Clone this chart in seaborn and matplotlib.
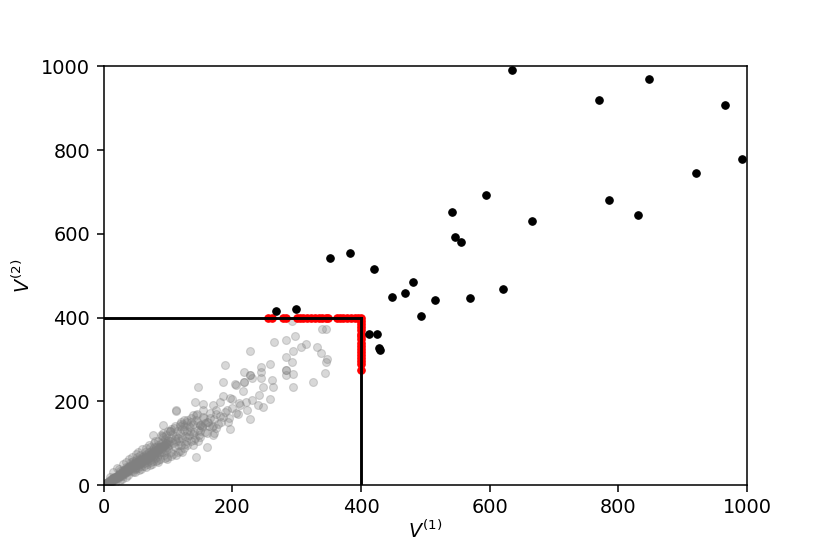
import matplotlib
matplotlib.use("Agg")
import matplotlib.pyplot as plt
import seaborn as sns
import pandas as pd

# ---- data ----
threshold = 400

black_x = [268, 299, 351, 383, 420, 412, 425, 428, 429, 448, 469, 480, 493, 515, 542, 546, 556, 570,
           595, 620, 634, 666, 770, 786, 831, 847, 921, 966, 993]
black_y = [415, 421, 542, 555, 515, 361, 361, 327, 322, 450, 458, 486, 404, 442, 652, 593, 581, 447,
           693, 468, 991, 630, 919, 682, 644, 970, 746, 909, 778]

red_x = [256, 261, 279, 283, 300, 305, 310, 316, 322, 328, 334, 340, 345, 348,
         362, 367, 372, 378, 384, 390, 395, 400,
         400, 400, 400, 400, 400, 400, 400, 400, 400, 400, 400, 400, 400, 400, 400, 400]
red_y = [400, 400, 400, 400, 400, 400, 400, 400, 400, 400, 400, 400, 400, 400,
         400, 400, 400, 400, 400, 400, 400, 400,
         392, 385, 378, 370, 362, 355, 348, 340, 333, 326, 318, 310, 303, 296, 290, 275]

gray_x = [2, 3, 4, 5, 6, 7, 8, 9, 10, 3, 5, 7, 1, 6, 8,
          11, 12, 13, 14, 15, 16, 17, 18, 19, 12, 14, 16, 18, 20, 11,
          21, 22, 23, 24, 25, 26, 27, 28, 29, 30, 22, 24, 26, 28, 30,
          31, 32, 33, 34, 35, 36, 37, 38, 39, 40, 32, 34, 36, 38, 40,
          41, 42, 43, 44, 45, 46, 47, 48, 49, 50, 42, 44, 46, 48, 50,
          51, 52, 53, 54, 55, 56, 57, 58, 59, 60, 52, 54, 56, 58, 60,
          61, 62, 63, 64, 65, 66, 67, 68, 69, 70, 62, 64, 66, 68, 70,
          71, 72, 73, 74, 75, 76, 77, 78, 79, 80, 72, 74, 76, 78, 80,
          81, 82, 83, 84, 85, 86, 87, 88, 89, 90, 82, 84, 86, 88, 90,
          91, 92, 93, 94, 95, 96, 97, 98, 99, 100, 92, 94, 96, 98, 100,
          102, 104, 105, 106, 108, 110, 112, 113, 114, 115, 103, 107, 111, 109, 115,
          117, 118, 120, 121, 122, 124, 125, 126, 128, 130, 119, 123, 127, 129, 130,
          132, 134, 136, 138, 140, 142, 144, 146, 148, 150, 135, 139, 143, 147, 150,
          153, 156, 158, 162, 165, 168, 172, 175, 178, 180,
          20, 25, 30, 35, 40, 45, 50, 55, 60, 65, 24, 28, 34, 38, 44, 48, 54, 58, 15, 18, 10, 12,
          70, 75, 80, 85, 90, 95, 100, 105, 110, 115, 120, 66, 72, 78, 84, 92, 98, 104, 112, 118,
          125, 130, 135, 140, 145, 150, 155, 160, 165, 170, 175, 182, 188, 195, 200,
          124, 132, 138, 146, 152, 158, 164, 172, 186, 192,
          5, 10, 15, 20, 25, 30, 35, 40, 45, 50, 55, 60, 65, 70, 75, 80, 85, 90, 95, 100,
          8, 13, 18, 23, 28, 33, 38, 43, 48, 53, 58, 63, 68, 73, 78, 83, 88, 93, 98, 103,
          292, 345, 265, 284, 298, 227, 306, 314, 294, 331, 337, 347, 345, 284, 292, 259, 244,
          283, 283, 294, 344, 218, 227, 230, 244, 244, 218, 262, 326, 205, 248, 263, 294, 217,
          242, 258, 231, 221, 210, 240, 248, 200, 189, 147, 186, 204, 228, 196, 175, 193, 206,
          222, 113, 161, 89, 77, 121, 144, 185, 196, 112, 142, 155, 170, 180, 212, 209, 160,
          149, 118, 92, 103, 134, 170, 139, 129, 155, 227, 283, 218, 340]
gray_y = [3, 1, 5, 4, 7, 5, 9, 6, 8, 4, 6, 8, 2, 3, 6,
          12, 9, 14, 11, 17, 13, 15, 20, 16, 15, 16, 18, 14, 22, 8,
          19, 25, 20, 27, 22, 29, 24, 31, 26, 28, 17, 21, 33, 22, 35,
          30, 36, 28, 38, 32, 40, 33, 43, 35, 38, 26, 44, 30, 37, 46,
          42, 36, 48, 40, 52, 43, 50, 41, 55, 47, 55, 33, 58, 38, 60,
          52, 44, 58, 48, 63, 50, 60, 46, 66, 55, 68, 40, 72, 52, 62,
          58, 70, 52, 66, 60, 75, 56, 68, 62, 78, 46, 80, 64, 50, 66,
          72, 60, 82, 66, 74, 58, 86, 70, 78, 64, 90, 54, 80, 92, 84,
          76, 90, 68, 84, 96, 74, 88, 62, 100, 80, 58, 104, 92, 78, 94,
          86, 102, 72, 96, 110, 84, 100, 68, 92, 108, 115, 78, 120, 104, 88,
          96, 112, 80, 122, 100, 90, 118, 106, 128, 95, 130, 74, 110, 136, 112,
          104, 124, 96, 134, 112, 88, 140, 118, 106, 128, 82, 146, 98, 150, 114,
          120, 138, 104, 146, 126, 112, 156, 132, 120, 144, 160, 96, 168, 104, 130,
          140, 160, 126, 150, 172, 138, 158, 180, 146, 166,
          40, 12, 50, 20, 62, 30, 75, 35, 85, 42, 38, 15, 55, 25, 68, 32, 80, 38, 30, 6, 20, 3,
          95, 50, 105, 60, 118, 65, 128, 70, 140, 78, 150, 88, 48, 100, 56, 124, 62, 134, 72, 145,
          155, 95, 150, 108, 170, 115, 180, 125, 160, 140, 170, 150, 175, 160, 185,
          132, 140, 122, 148, 138, 148, 142, 125, 162, 180,
          5, 10, 14, 19, 25, 30, 34, 42, 45, 50, 56, 60, 66, 70, 76, 80, 86, 90, 96, 100,
          10, 11, 18, 24, 27, 35, 40, 43, 51, 52, 59, 64, 72, 71, 82, 80, 92, 94, 98, 106,
          391, 373, 341, 347, 355, 321, 329, 337, 321, 329, 315, 301, 294, 307, 294, 290, 283,
          274, 263, 265, 267, 270, 262, 255, 270, 255, 245, 250, 245, 239, 234, 234, 233, 225,
          215, 205, 203, 199, 197, 191, 186, 206, 287, 235, 247, 242, 157, 133, 136, 151, 172,
          179, 179, 92, 120, 120, 80, 68, 213, 207, 178, 199, 194, 191, 199, 191, 169, 151,
          144, 140, 144, 128, 128, 120, 168, 156, 163, 262, 274, 245, 372]

gray = pd.DataFrame({"V1": gray_x, "V2": gray_y})
red = pd.DataFrame({"V1": red_x, "V2": red_y})
black = pd.DataFrame({"V1": black_x, "V2": black_y})

fig = plt.figure(figsize=(6, 4.005), dpi=138.333)
ax = fig.add_axes([0.125, 0.1245, 0.775, 0.7555])

sns.scatterplot(data=gray, x="V1", y="V2", ax=ax, color="gray", edgecolor="gray",
                alpha=0.3, s=17, linewidth=0.6, zorder=1)
sns.scatterplot(data=red, x="V1", y="V2", ax=ax, color="red", edgecolor="red",
                s=15, linewidth=0.6, zorder=2)
ax.plot([0, threshold], [threshold, threshold], color="black", lw=1.5, zorder=3)
ax.plot([threshold, threshold], [0, threshold], color="black", lw=1.5, zorder=3)
sns.scatterplot(data=black, x="V1", y="V2", ax=ax, color="black", edgecolor="black",
                s=15, linewidth=0.6, zorder=4)

ax.set_xlim(0, 1000)
ax.set_ylim(0, 1000)
ax.set_xticks([0, 200, 400, 600, 800, 1000])
ax.set_yticks([0, 200, 400, 600, 800, 1000])
ax.set_xlabel(r"$V^{(1)}$", labelpad=1)
ax.set_ylabel(r"$V^{(2)}$")

fig.savefig("out.png", dpi=138.333)
